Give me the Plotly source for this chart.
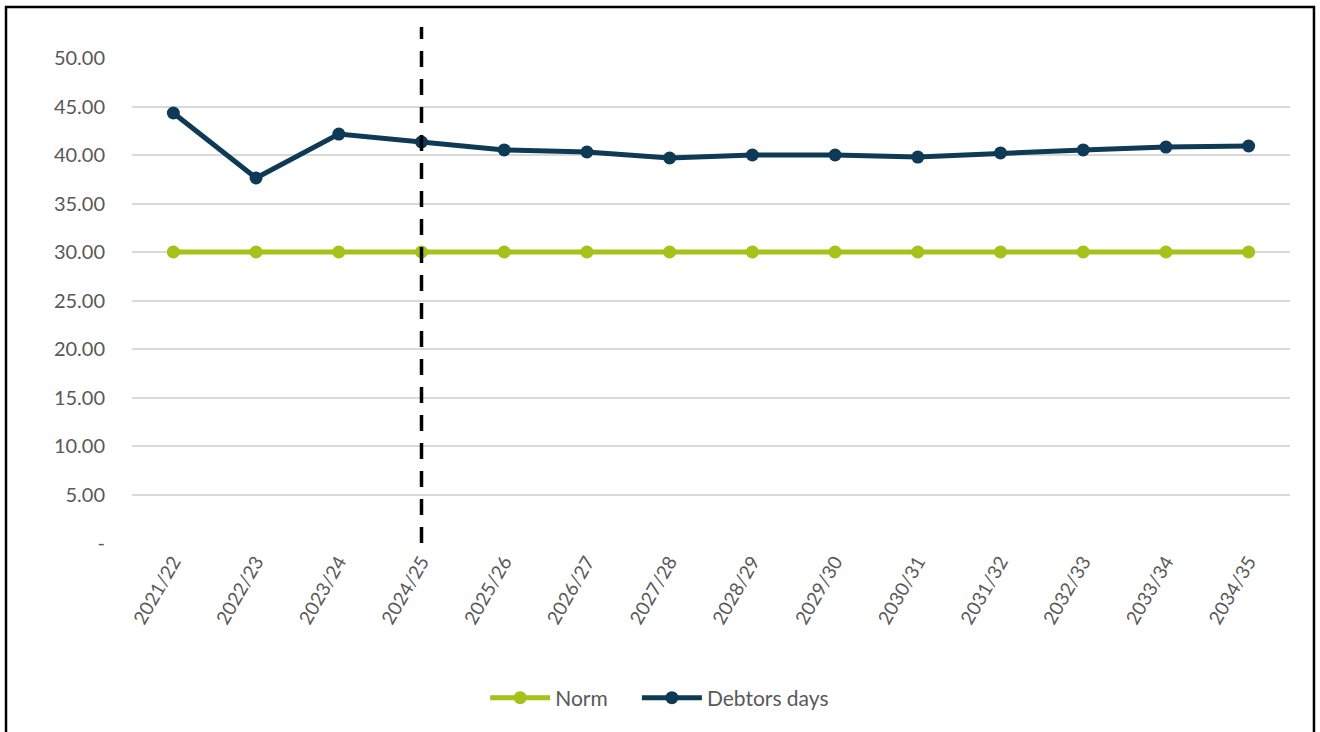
import plotly.graph_objects as go

categories = ["2021/22", "2022/23", "2023/24", "2024/25", "2025/26", "2026/27", "2027/28",
              "2028/29", "2029/30", "2030/31", "2031/32", "2032/33", "2033/34", "2034/35"]
norm = [30.0] * 14
debtors_days = [44.33, 37.63, 42.16, 41.34, 40.52, 40.31, 39.69, 40.0, 40.0, 39.79, 40.21, 40.52, 40.82, 40.93]
y_ticks = [0, 5, 10, 15, 20, 25, 30, 35, 40, 45, 50]
y_tick_labels = ["-" if v == 0 else f"{v:.2f}" for v in y_ticks]
split_category = "2024/25"

GREEN = "#A5C11A"
NAVY = "#0E3A55"
FONT = "Lato, 'Open Sans', sans-serif"

fig = go.Figure()
fig.add_trace(go.Scatter(x=categories, y=norm, name="Norm", mode="lines+markers",
                         line=dict(color=GREEN, width=5), marker=dict(size=13, color=GREEN),
                         legend="legend"))
fig.add_trace(go.Scatter(x=categories, y=debtors_days, name="Debtors days", mode="lines+markers",
                         line=dict(color=NAVY, width=5), marker=dict(size=13, color=NAVY),
                         legend="legend2"))

# dashed divider
fig.add_shape(type="line", xref="x", yref="paper", x0=split_category, x1=split_category,
              y0=0, y1=1.064, line=dict(color="black", width=3.5, dash="16px,12px"), layer="above")
# frame
fig.add_shape(type="rect", xref="paper", yref="paper", x0=-0.1088, x1=1.0207, y0=-0.40, y1=1.1052,
              line=dict(color="black", width=2.5))

legend_style = dict(orientation="h", xanchor="left", y=-0.3196, yanchor="middle",
                    font=dict(size=21, color="#595959"), itemwidth=60, bgcolor="rgba(0,0,0,0)")

fig.update_layout(
    width=1320, height=732,
    margin=dict(l=132, r=30, t=58, b=189),
    paper_bgcolor="white", plot_bgcolor="white",
    font=dict(family=FONT, color="#595959", size=20),
    showlegend=True,
    legend=dict(x=0.305, **legend_style),
    legend2=dict(x=0.436, **legend_style),
    xaxis=dict(type="category", range=[-0.5, 13.5], showgrid=False, zeroline=False,
               showline=False, tickangle=-60, ticks="", ticklabelstandoff=3,
               tickfont=dict(size=19)),
    yaxis=dict(range=[0, 50], tickvals=y_ticks, ticktext=y_tick_labels, showgrid=True,
               gridcolor="#D9D9D9", gridwidth=1.5, zeroline=False, showline=False,
               ticks="", ticklabelstandoff=26, tickfont=dict(size=20)),
)

fig.write_html("out.html", config={"displayModeBar": False},
               post_script="document.body.style.margin='0';")
